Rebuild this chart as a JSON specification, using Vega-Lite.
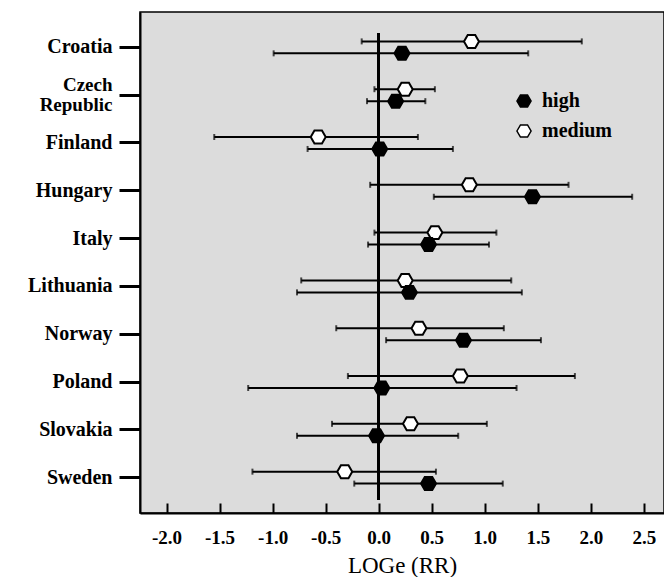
{
  "$schema": "https://vega.github.io/schema/vega-lite/v6.json",
  "width": 524,
  "height": 501,
  "padding": {"left": 0, "top": 12, "right": 0, "bottom": 0},
  "background": "white",
  "config": {
    "view": {"fill": "#dcdcdc", "stroke": "black", "strokeWidth": 1.5},
    "font": "Liberation Serif"
  },
  "resolve": {"axis": {"x": "independent"}},
  "data": {
    "values": [
      {"country": "Croatia", "level": "medium", "est": 0.875, "lo": -0.16, "hi": 1.915},
      {"country": "Croatia", "level": "high", "est": 0.22, "lo": -0.99, "hi": 1.41},
      {"country": "Czech Republic", "level": "medium", "est": 0.25, "lo": -0.04, "hi": 0.53},
      {"country": "Czech Republic", "level": "high", "est": 0.16, "lo": -0.11, "hi": 0.44},
      {"country": "Finland", "level": "medium", "est": -0.57, "lo": -1.55, "hi": 0.37},
      {"country": "Finland", "level": "high", "est": 0.01, "lo": -0.67, "hi": 0.70},
      {"country": "Hungary", "level": "medium", "est": 0.855, "lo": -0.08, "hi": 1.79},
      {"country": "Hungary", "level": "high", "est": 1.45, "lo": 0.52, "hi": 2.39},
      {"country": "Italy", "level": "medium", "est": 0.53, "lo": -0.04, "hi": 1.11},
      {"country": "Italy", "level": "high", "est": 0.47, "lo": -0.10, "hi": 1.04},
      {"country": "Lithuania", "level": "medium", "est": 0.25, "lo": -0.73, "hi": 1.25},
      {"country": "Lithuania", "level": "high", "est": 0.29, "lo": -0.77, "hi": 1.35},
      {"country": "Norway", "level": "medium", "est": 0.38, "lo": -0.40, "hi": 1.18},
      {"country": "Norway", "level": "high", "est": 0.80, "lo": 0.07, "hi": 1.53},
      {"country": "Poland", "level": "medium", "est": 0.77, "lo": -0.29, "hi": 1.85},
      {"country": "Poland", "level": "high", "est": 0.03, "lo": -1.23, "hi": 1.30},
      {"country": "Slovakia", "level": "medium", "est": 0.30, "lo": -0.44, "hi": 1.02},
      {"country": "Slovakia", "level": "high", "est": -0.02, "lo": -0.77, "hi": 0.75},
      {"country": "Sweden", "level": "medium", "est": -0.32, "lo": -1.19, "hi": 0.54},
      {"country": "Sweden", "level": "high", "est": 0.47, "lo": -0.23, "hi": 1.17}
    ]
  },
  "encoding": {
    "y": {
      "field": "country",
      "type": "nominal",
      "sort": ["Croatia", "Czech Republic", "Finland", "Hungary", "Italy", "Lithuania", "Norway", "Poland", "Slovakia", "Sweden"],
      "scale": {"type": "band", "paddingInner": 0, "paddingOuter": 0.24},
      "axis": {
        "title": null,
        "domain": true, "domainColor": "black", "domainWidth": 2,
        "ticks": true, "tickSize": 21, "tickWidth": 3, "tickColor": "black",
        "labelFont": "Liberation Serif", "labelFontWeight": "bold",
        "labelFontSize": {"condition": {"test": "datum.value == 'Czech Republic'", "value": 19}, "value": 20},
        "labelColor": "black", "labelPadding": 7,
        "labelExpr": "datum.label == 'Czech Republic' ? ['Czech', 'Republic'] : datum.label",
        "labelLineHeight": 20,
        "labelOffset": {"condition": {"test": "datum.value == 'Czech Republic'", "value": -10}, "value": 0},
        "minExtent": 140, "maxExtent": 140
      }
    }
  },
  "layer": [
    {
      "mark": {"type": "rule", "color": "black", "strokeWidth": 2},
      "encoding": {
        "x": {"datum": 0, "type": "quantitative", "axis": null},
        "y": {"datum": "Croatia", "bandPosition": 0.2},
        "y2": {"datum": "Sweden", "bandPosition": 0.97}
      }
    },
    {
      "mark": {"type": "rule", "color": "black", "strokeWidth": 2},
      "encoding": {
        "x": {
          "field": "lo", "type": "quantitative",
          "scale": {"domain": [-2.25, 2.69], "nice": false, "zero": false},
          "axis": {
            "orient": "bottom",
            "values": [-2, -1.5, -1, -0.5, 0, 0.5, 1, 1.5, 2, 2.5],
            "labelExpr": "replace(format(datum.value, '.1f'), '\u2212', '-')",
            "grid": false,
            "domain": true, "domainColor": "black", "domainWidth": 2,
            "ticks": false,
            "labelPadding": 15,
            "labelFont": "Liberation Serif", "labelFontWeight": "bold", "labelFontSize": 19,
            "labelColor": "black",
            "title": "LOGe (RR)",
            "titleFont": "Liberation Serif", "titleFontSize": 23, "titleFontWeight": "normal",
            "titleColor": "black", "titlePadding": 7
          }
        },
        "x2": {"field": "hi"},
        "yOffset": {"field": "level", "type": "nominal", "scale": {"domain": ["medium", "high"], "paddingInner": 0, "paddingOuter": 1.17}}
      }
    },
    {
      "mark": {"type": "tick", "color": "black", "thickness": 2, "size": 6},
      "encoding": {
        "x": {
          "field": "lo", "type": "quantitative",
          "axis": {
            "orient": "top", "offset": -501,
            "values": [-2, -1.5, -1, -0.5, 0, 0.5, 1, 1.5, 2, 2.5],
            "grid": false, "domain": false, "labels": false, "title": null,
            "ticks": true, "tickSize": 10, "tickWidth": 2, "tickColor": "black"
          }
        },
        "yOffset": {"field": "level", "type": "nominal"}
      }
    },
    {
      "mark": {"type": "tick", "color": "black", "thickness": 2, "size": 6},
      "encoding": {
        "x": {"field": "hi", "type": "quantitative", "axis": null},
        "yOffset": {"field": "level", "type": "nominal"}
      }
    },
    {
      "mark": {"type": "point", "filled": true, "opacity": 1, "size": 225, "stroke": "black", "strokeWidth": 2},
      "encoding": {
        "x": {"field": "est", "type": "quantitative", "axis": null},
        "yOffset": {"field": "level", "type": "nominal"},
        "shape": {
          "field": "level", "type": "nominal",
          "scale": {"domain": ["high", "medium"], "range": ["M-1,0L-0.5,-0.866L0.5,-0.866L1,0L0.5,0.866L-0.5,0.866Z", "M-1,0L-0.5,-0.866L0.5,-0.866L1,0L0.5,0.866L-0.5,0.866Z"]},
          "legend": {
            "title": null, "orient": "none", "legendX": 374, "legendY": 79,
            "labelFont": "Liberation Serif", "labelFontWeight": "bold", "labelFontSize": 20,
            "labelColor": "black", "symbolSize": 200,
            "rowPadding": 10, "labelOffset": 8,
            "encode": {"symbols": {"update": {"stroke": {"value": "black"}, "strokeWidth": {"value": 2}}}}
          }
        },
        "fill": {
          "field": "level", "type": "nominal",
          "scale": {"domain": ["high", "medium"], "range": ["black", "white"]},
          "legend": {
            "title": null, "orient": "none", "legendX": 374, "legendY": 79,
            "labelFont": "Liberation Serif", "labelFontWeight": "bold", "labelFontSize": 20,
            "labelColor": "black", "symbolSize": 200,
            "rowPadding": 10, "labelOffset": 8,
            "encode": {"symbols": {"update": {"stroke": {"value": "black"}, "strokeWidth": {"value": 2}}}}
          }
        }
      }
    }
  ]
}
